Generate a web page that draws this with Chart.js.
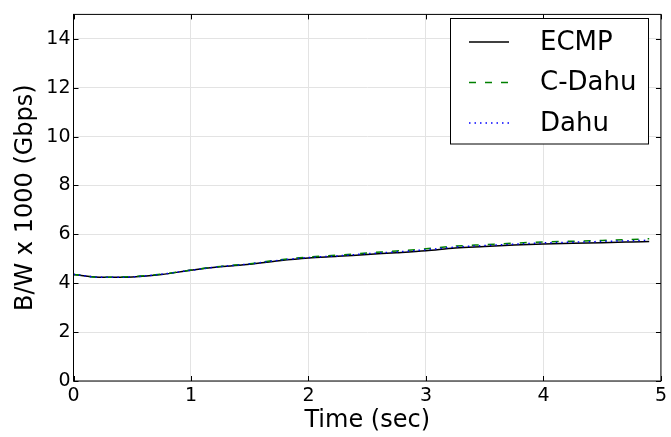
<!DOCTYPE html>
<html>
<head>
<meta charset="utf-8">
<script src="https://cdn.jsdelivr.net/npm/chart.js@4.4.0/dist/chart.umd.min.js"></script>
<style>
	html, body { margin: 0; padding: 0; background: #fff; }
	#wrap { width: 671px; height: 437px; }
</style>
</head>
<body>
<div id="wrap"><canvas id="mycanvas" width="671" height="437"></canvas></div>
<script>
var time = [0, 0.25, 0.5, 0.75, 1, 1.25, 1.5, 1.75, 2, 2.25, 2.5, 2.75, 3, 3.25, 3.5, 3.75, 4, 4.25, 4.5, 4.75, 4.9];
var ecmp = [4.36, 4.24, 4.26, 4.36, 4.53, 4.67, 4.78, 4.92, 5.03, 5.10, 5.18, 5.25, 5.33, 5.44, 5.50, 5.56, 5.61, 5.64, 5.66, 5.69, 5.71];
var cdahu = [4.36, 4.24, 4.27, 4.37, 4.54, 4.69, 4.80, 4.96, 5.07, 5.15, 5.24, 5.32, 5.41, 5.52, 5.58, 5.64, 5.69, 5.72, 5.75, 5.79, 5.82];
var dahu = [4.36, 4.24, 4.26, 4.37, 4.53, 4.68, 4.79, 4.94, 5.05, 5.12, 5.21, 5.28, 5.37, 5.48, 5.54, 5.60, 5.65, 5.68, 5.71, 5.74, 5.76];
var xTicks = [0, 1, 2, 3, 4, 5];
var yTicks = [0, 2, 4, 6, 8, 10, 12, 14];

function points(ys) {
	var out = [];
	for (var i in time) {
		out.push({x: time[i], y: ys[i]});
	}
	return out;
}

// box around the plot, inward ticks, and the matplotlib style legend
var framePlugin = {
	id: 'frame',
	afterDraw: function(chart) {
		var ctx = chart.ctx;
		var a = chart.chartArea;
		var xs = chart.scales.x;
		var ys = chart.scales.y;
		ctx.save();
		ctx.strokeStyle = '#000';
		ctx.lineWidth = 1;
		ctx.setLineDash([]);
		ctx.strokeRect(a.left, a.top, a.right - a.left, a.bottom - a.top);
		ctx.beginPath();
		for (var i in xTicks) {
			var px = Math.round(xs.getPixelForValue(xTicks[i])) + 0.5;
			ctx.moveTo(px, a.bottom); ctx.lineTo(px, a.bottom - 5);
			ctx.moveTo(px, a.top); ctx.lineTo(px, a.top + 5);
		}
		for (var j in yTicks) {
			var py = Math.round(ys.getPixelForValue(yTicks[j])) + 0.5;
			ctx.moveTo(a.left, py); ctx.lineTo(a.left + 5, py);
			ctx.moveTo(a.right, py); ctx.lineTo(a.right - 5, py);
		}
		ctx.stroke();

		// legend
		ctx.fillStyle = '#fff';
		ctx.fillRect(450.5, 18.5, 198, 125.5);
		ctx.strokeRect(450.5, 18.5, 198, 125.5);
		var sets = chart.data.datasets;
		ctx.font = '26px "DejaVu Sans"';
		ctx.textBaseline = 'middle';
		ctx.textAlign = 'left';
		for (var k = 0; k < sets.length; k++) {
			var ly = 42 + k * 40.5;
			ctx.strokeStyle = sets[k].borderColor;
			ctx.lineWidth = sets[k].borderWidth;
			ctx.setLineDash(sets[k].borderDash || []);
			ctx.beginPath();
			ctx.moveTo(469, ly);
			ctx.lineTo(509, ly);
			ctx.stroke();
			ctx.fillStyle = '#000';
			ctx.fillText(sets[k].label, 540, ly + 1);
		}
		ctx.restore();
	}
};

var chartdata = {
	datasets: [
		{
			label: "ECMP",
			data: points(ecmp),
			borderColor: "#000000",
			borderWidth: 1.5,
			order: 3
		},
		{
			label: "C-Dahu",
			data: points(cdahu),
			borderColor: "#008000",
			borderWidth: 1.5,
			borderDash: [7, 9],
			order: 2
		},
		{
			label: "Dahu",
			data: points(dahu),
			borderColor: "#0000ff",
			borderWidth: 1.5,
			borderDash: [1.5, 4],
			order: 1
		}
	]
};

var ctx = document.getElementById('mycanvas');

var LineGraph = new Chart(ctx, {
	type: 'line',
	data: chartdata,
	plugins: [framePlugin],
	options: {
		responsive: false,
		animation: false,
		events: [],
		layout: { padding: { top: 5, right: 8.5, left: 0, bottom: 0 } },
		elements: {
			point: { radius: 0 },
			line: { fill: false, cubicInterpolationMode: 'monotone' }
		},
		plugins: {
			legend: { display: false },
			tooltip: { enabled: false }
		},
		scales: {
			x: {
				type: 'linear',
				min: 0,
				max: 5,
				afterBuildTicks: function(s) { s.ticks = xTicks.map(function(v) { return {value: v}; }); },
				afterFit: function(s) { s.height = 56; },
				grid: { color: '#e3e3e3', drawTicks: false },
				border: { display: false },
				ticks: { color: '#000', padding: 4, font: { family: 'DejaVu Sans', size: 19 }, maxRotation: 0 },
				title: { display: true, text: 'Time (sec)', color: '#000', padding: { top: 0, bottom: 2 }, font: { family: 'DejaVu Sans', size: 24, lineHeight: 1.2 } }
			},
			y: {
				min: 0,
				max: 15,
				afterBuildTicks: function(s) { s.ticks = yTicks.map(function(v) { return {value: v}; }); },
				afterFit: function(s) { s.width = 73.5; },
				grid: { color: '#e3e3e3', drawTicks: false },
				border: { display: false },
				ticks: { color: '#000', padding: 3, font: { family: 'DejaVu Sans', size: 19 } },
				title: { display: true, text: 'B/W x 1000 (Gbps)', color: '#000', padding: { top: 11, bottom: 0 }, font: { family: 'DejaVu Sans', size: 24, lineHeight: 1.2 } }
			}
		}
	}
});
</script>
</body>
</html>
